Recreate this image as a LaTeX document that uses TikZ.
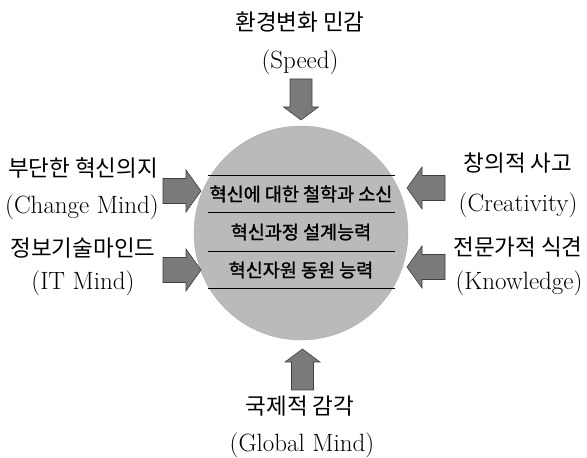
\documentclass[tikz,border=0pt]{standalone}
\usepackage{fontspec}
\newfontfamily\kr{Noto Sans CJK KR}
\newfontfamily\krb[FakeBold=1.5]{Noto Sans CJK KR}
\begin{document}
\begin{tikzpicture}[x=1pt,y=1pt,
  krlab/.style={font=\kr\fontsize{22.5}{24}\selectfont, inner sep=0pt},
  enlab/.style={font=\fontsize{25}{27}\selectfont, inner sep=0pt},
  rowlab/.style={font=\krb\fontsize{18.5}{20}\selectfont, inner sep=0pt},
  arrowfill/.style={fill=black!52, draw=black!75, line width=0.6pt},
  rowline/.style={line width=0.8pt, black},
  pics/harrow/.style={code={
    \path[arrowfill] (0,-12.5) -- (23,-12.5) -- (23,-21) -- (38,0) -- (23,21) -- (23,12.5) -- (0,12.5) -- cycle;}},
  pics/varrow/.style={code={
    \path[arrowfill] (0,-11) -- (28,-11) -- (28,-17.5) -- (41,0) -- (28,17.5) -- (28,11) -- (0,11) -- cycle;}}
]
\useasboundingbox (0,0) rectangle (587,458);
% sphere
\node[circle, minimum size=214pt, inner sep=0pt, fill=black!27, draw=black!32, line width=0.4pt] (ball) at (301,225) {};
% rows
\coordinate (l1a) at (208,283); \coordinate (l1b) at (395,283);
\coordinate (l2a) at (208,246); \coordinate (l2b) at (395,246);
\coordinate (l3a) at (208,207); \coordinate (l3b) at (395,207);
\coordinate (l4a) at (208,170); \coordinate (l4b) at (395,170);
\draw[rowline] (l1a) -- (l1b);
\draw[rowline] (l2a) -- (l2b);
\draw[rowline] (l3a) -- (l3b);
\draw[rowline] (l4a) -- (l4b);
\node[rowlab] (r1) at (301,264) {혁신에 대한 철학과 소신};
\node[rowlab] (r2) at (301,226) {혁신과정 설계능력};
\node[rowlab] (r3) at (301,188) {혁신자원 동원 능력};
% arrows
\pic at (163,267) {harrow};
\pic at (163,188) {harrow};
\pic[rotate=180] at (445,270) {harrow};
\pic[rotate=180] at (445,191) {harrow};
\pic[rotate=-90] at (301,379) {varrow};
\pic[rotate=90] at (302.5,68) {varrow};
% labels
\node[krlab] (t1) at (300,436) {환경변화 민감};
\node[enlab] (t2) at (300,396) {(Speed)};
\node[krlab] (lA1) at (83,290) {부단한 혁신의지};
\node[enlab] (lA2) at (82,251) {(Change Mind)};
\node[krlab] (lB1) at (83,210) {정보기술마인드};
\node[enlab] (lB2) at (83,175) {(IT Mind)};
\node[krlab] (rA1) at (518,295) {창의적 사고};
\node[enlab] (rA2) at (518,253) {(Creativity)};
\node[krlab] (rB1) at (518,211) {전문가적 식견};
\node[enlab] (rB2) at (519,175) {(Knowledge)};
\node[krlab] (b1) at (300,52) {국제적 감각};
\node[enlab] (b2) at (302,13) {(Global Mind)};
\end{tikzpicture}
\end{document}
